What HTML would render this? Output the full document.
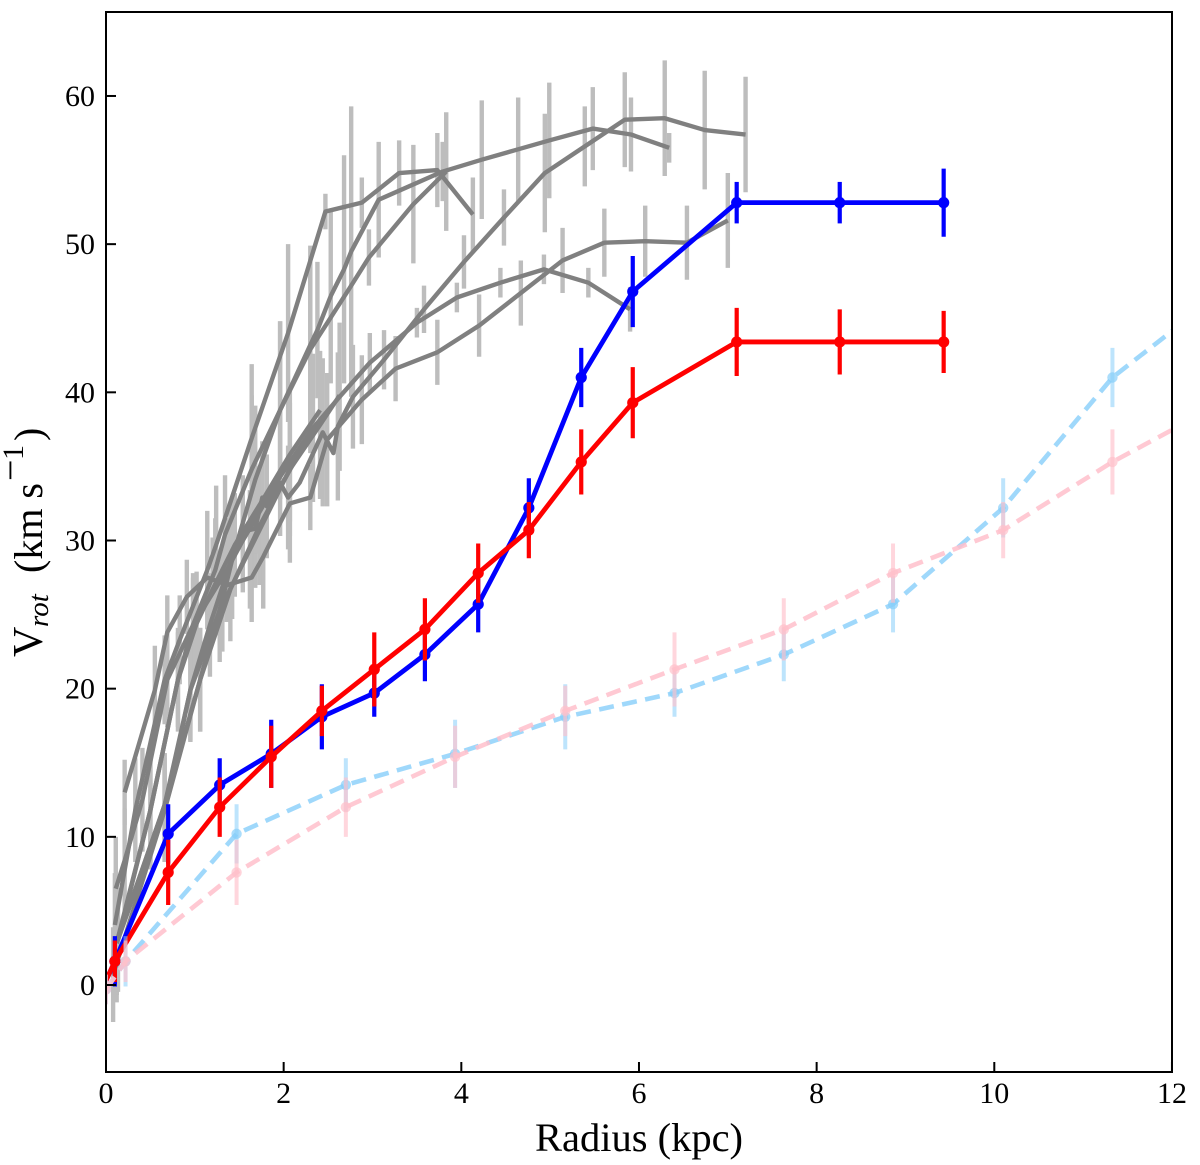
<!DOCTYPE html>
<html>
<head>
<meta charset="utf-8">
<title>Rotation curves</title>
<style>
html,body{margin:0;padding:0;background:#fff;}
svg{display:block;}
text{font-family:"Liberation Serif",serif;fill:#000;}
</style>
</head>
<body>
<svg id="chart" xmlns="http://www.w3.org/2000/svg" width="1200" height="1165" viewBox="0 0 1200 1165">
<defs><clipPath id="plot-clip"><rect x="106" y="12" width="1066" height="1060"></rect></clipPath></defs>
<rect x="0" y="0" width="1200" height="1165" fill="#fff"></rect>
<g id="marks" clip-path="url(#plot-clip)"></g>
<rect x="106" y="12" width="1066" height="1060" fill="none" stroke="#000" stroke-width="2"></rect>
<g id="axes"></g>
<text x="639" y="1151" font-size="40.5" text-anchor="middle">Radius (kpc)</text>
<g transform="translate(42,657) rotate(-90)">
<text x="0" y="0" font-size="42">V</text>
<text x="30" y="6" font-size="29" font-style="italic">rot</text>
<text x="84" y="0" font-size="40">(km s</text>
<text x="176" y="-19" font-size="38">−</text>
<text x="197" y="-19" font-size="30">1</text>
<text x="216" y="0" font-size="40">)</text>
</g>
</svg>
<script>
// axis ticks
const xTickLabels = [0, 2, 4, 6, 8, 10, 12];
const yTickLabels = [0, 10, 20, 30, 40, 50, 60];

// main blue series
const blueRadius = [0, 0.10, 0.70, 1.28, 1.86, 2.43, 3.02, 3.59, 4.19, 4.76, 5.35, 5.93, 7.10, 8.26, 9.43];
const blueVelocity = [0.3, 1.6, 10.2, 13.5, 15.6, 18.1, 19.7, 22.3, 25.7, 32.2, 41.0, 46.8, 52.8, 52.8, 52.8];
const blueError = [0, 1.7, 2.0, 1.8, 2.3, 2.2, 1.6, 1.8, 1.9, 2.0, 2.0, 2.4, 1.4, 1.4, 2.3];

// main red series
const redRadius = [0, 0.10, 0.70, 1.28, 1.86, 2.43, 3.02, 3.59, 4.19, 4.76, 5.35, 5.93, 7.10, 8.26, 9.43];
const redVelocity = [0.3, 1.6, 7.6, 12.0, 15.4, 18.5, 21.3, 24.0, 27.8, 30.7, 35.3, 39.3, 43.4, 43.4, 43.4];
const redError = [0, 1.4, 2.2, 2.0, 2.1, 1.7, 2.5, 2.1, 2.0, 1.9, 2.2, 2.4, 2.3, 2.2, 2.1];

// faded dashed series
const lightRadius = [0, 0.22, 1.47, 2.70, 3.93, 5.17, 6.40, 7.63, 8.86, 10.10, 11.33, 12.57];
const lightBlueVelocity = [-0.3, 1.6, 10.2, 13.5, 15.6, 18.1, 19.7, 22.3, 25.7, 32.2, 41.0, 46.8];
const lightBlueError = [1, 1.7, 2.0, 1.8, 2.3, 2.2, 1.6, 1.8, 1.9, 2.0, 2.0, 2.4];
const pinkVelocity = [-0.3, 1.6, 7.6, 12.0, 15.4, 18.5, 21.3, 24.0, 27.8, 30.7, 35.3, 39.3];
const pinkError = [1, 1.4, 2.2, 2.0, 2.1, 1.7, 2.5, 2.1, 2.0, 1.9, 2.2, 2.4];

// grey comparison galaxies (an error of 0 means no visible bar at that vertex)
const grayRadiusA = [0.12, 0.66, 0.95, 1.17, 1.40, 1.54, 1.68, 1.76, 1.81, 1.96, 2.05, 2.18, 2.44, 2.56, 2.61, 2.78, 3.13, 3.58, 4.03, 4.48, 4.94, 5.39, 5.84, 6.29, 6.74, 7.20];
const grayVelocityA = [2.83, 12.15, 19.9, 24.3, 28.5, 30.6, 30.8, 32.9, 32.3, 33.9, 32.9, 33.9, 37.3, 35.9, 37.7, 39.7, 42.2, 45.6, 48.8, 51.8, 54.8, 56.6, 58.4, 58.5, 57.7, 57.4];
const grayErrorA = [3.5, 3.5, 3.4, 3.5, 3.6, 3.8, 4.0, 0, 3.5, 0, 3.5, 0, 5.0, 0, 5.0, 3.5, 2.0, 1.6, 1.8, 1.9, 4.0, 2.7, 3.2, 3.9, 4.0, 3.9];

const grayRadiusB = [0.12, 0.50, 0.81, 0.98, 1.23, 1.34, 1.64, 1.96, 2.30, 2.38, 2.53, 2.68, 2.76, 3.07, 3.79, 4.23, 4.64, 4.99, 5.48, 5.91, 6.34];
const grayVelocityB = [2.83, 11.8, 20.6, 24.3, 28.0, 30.4, 34.8, 38.8, 43.2, 44.2, 46.5, 48.3, 49.5, 53.0, 54.9, 55.7, 56.4, 57.0, 57.8, 57.4, 56.5];
const grayErrorB = [4.0, 4.0, 3.5, 3.5, 3.5, 4.0, 5.0, 6.0, 6.0, 4.6, 5.9, 7.7, 9.8, 3.9, 2.0, 4.0, 3.5, 3.9, 2.8, 2.5, 1.0];

const grayRadiusC = [0.10, 0.33, 0.66, 0.83, 1.14, 1.24, 1.64, 2.05, 2.47, 2.88, 3.30, 3.73, 4.13];
const grayVelocityC = [4.05, 11.8, 20.6, 23.3, 28.0, 29.7, 36.9, 44.0, 52.2, 52.8, 54.8, 55.0, 52.0];
const grayErrorC = [3.5, 3.5, 3.0, 3.0, 4.0, 4.0, 5.0, 6.0, 1.2, 1.7, 2.2, 2.5, 2.5];

const grayRadiusD = [0.12, 0.66, 1.06, 1.31, 1.42, 1.68, 1.96, 2.30, 2.76, 2.96, 3.46, 3.83];
const grayVelocityD = [2.83, 11.8, 20.6, 26.0, 28.7, 34.1, 38.8, 42.9, 47.2, 49.1, 52.7, 54.9];
const grayErrorD = [3.5, 3.5, 3.5, 3.5, 4.0, 5.0, 6.0, 7.0, 0, 1.9, 4.0, 4.0];

const grayRadiusE = [0.21, 0.55, 0.69, 0.91, 1.14, 1.37, 1.64, 1.77, 2.07, 2.30, 2.49, 2.88, 3.26, 3.73, 4.20, 4.67, 5.14, 5.61, 6.07, 6.54, 7.00];
const grayVelocityE = [13.0, 19.9, 23.8, 26.2, 27.5, 27.0, 27.5, 28.9, 32.5, 32.9, 36.8, 39.5, 41.6, 42.7, 44.5, 46.7, 48.9, 50.1, 50.2, 50.1, 51.6];
const grayErrorE = [2.2, 3.0, 2.5, 2.5, 2.5, 2.5, 3.0, 3.5, 4.0, 2.2, 4.5, 3.0, 2.2, 2.2, 2.1, 2.2, 2.2, 2.3, 2.4, 2.5, 3.2];

const grayRadiusF = [0.11, 0.21, 0.41, 0.69, 0.98, 1.36, 1.54, 1.96, 2.33, 2.63, 2.97, 3.50, 3.95, 4.44, 4.93, 5.43, 5.90];
const grayVelocityF = [6.5, 8.4, 12.5, 20.6, 24.3, 28.0, 30.0, 34.3, 37.6, 39.7, 42.0, 44.7, 46.4, 47.4, 48.3, 47.4, 45.6];
const grayErrorF = [3.5, 3.5, 3.5, 3.2, 3.2, 3.5, 3.5, 4.0, 5.0, 5.0, 2.0, 1.0, 1.0, 1.0, 1.0, 1.0, 1.5];

const grayRadiusG = [0.12, 0.66, 1.06, 1.40, 1.73, 2.07, 2.41, 2.63];
const grayVelocityG = [2.83, 12.15, 20.6, 26.7, 31.0, 34.8, 37.8, 39.8];
const grayErrorG = [3.5, 3.5, 3.5, 3.5, 4.0, 4.5, 5.0, 0];

const grayRadiusH = [0.08, 0.66, 0.95, 1.28, 1.62, 2.01, 2.33];
const grayVelocityH = [0.7, 11.8, 19.9, 25.3, 29.4, 34.1, 37.6];
const grayErrorH = [3.2, 3.5, 3.5, 3.5, 4.0, 0, 0];

const grayRadiusI = [0.135, 0.50, 0.81, 1.02, 1.20, 1.45, 1.76, 2.07, 2.41];
const grayVelocityI = [3.04, 11.8, 20.6, 24.4, 26.7, 29.7, 32.7, 35.8, 38.8];
const grayErrorI = [3.5, 3.5, 3.2, 3.5, 3.5, 3.5, 4.0, 4.5, 0];

const xToPx = (v) => 106 + v * 88.83;
const yToPx = (v) => 985 - v * 14.817;
const SVG_NS = 'http://www.w3.org/2000/svg';
const marks = document.getElementById('marks');
const axes = document.getElementById('axes');

function drawErrorBars(radius, velocity, error, color, width, opacity, name) {
  radius.forEach((r, i) => {
    if (!error[i]) return;
    const bar = document.createElementNS(SVG_NS, 'line');
    
    
    bar.setAttribute('x1', xToPx(r));
    bar.setAttribute('x2', xToPx(r));
    bar.setAttribute('y1', yToPx(velocity[i] - error[i]));
    bar.setAttribute('y2', yToPx(velocity[i] + error[i]));
    bar.setAttribute('stroke', color);
    bar.setAttribute('stroke-width', width);
    bar.setAttribute('stroke-opacity', opacity);
    marks.appendChild(bar);
  });
}

function drawLine(radius, velocity, color, width, dash, opacity, name) {
  const line = document.createElementNS(SVG_NS, 'polyline');
  
  
  line.setAttribute('points', radius.map((r, i) => xToPx(r) + ',' + yToPx(velocity[i])).join(' '));
  line.setAttribute('fill', 'none');
  line.setAttribute('stroke', color);
  line.setAttribute('stroke-width', width);
  line.setAttribute('stroke-opacity', opacity);
  line.setAttribute('stroke-linejoin', 'round');
  if (dash) line.setAttribute('stroke-dasharray', dash);
  marks.appendChild(line);
}

function drawPoints(radius, velocity, error, color, size, opacity, name) {
  radius.forEach((r, i) => {
    if (!error[i]) return;
    const dot = document.createElementNS(SVG_NS, 'circle');
    
    
    dot.setAttribute('cx', xToPx(r));
    dot.setAttribute('cy', yToPx(velocity[i]));
    dot.setAttribute('r', size);
    dot.setAttribute('fill', color);
    dot.setAttribute('fill-opacity', opacity);
    marks.appendChild(dot);
  });
}

const grayGalaxies = [
  [grayRadiusA, grayVelocityA, grayErrorA, 'gray-galaxy-a'],
  [grayRadiusB, grayVelocityB, grayErrorB, 'gray-galaxy-b'],
  [grayRadiusC, grayVelocityC, grayErrorC, 'gray-galaxy-c'],
  [grayRadiusD, grayVelocityD, grayErrorD, 'gray-galaxy-d'],
  [grayRadiusE, grayVelocityE, grayErrorE, 'gray-galaxy-e'],
  [grayRadiusF, grayVelocityF, grayErrorF, 'gray-galaxy-f'],
  [grayRadiusG, grayVelocityG, grayErrorG, 'gray-galaxy-g'],
  [grayRadiusH, grayVelocityH, grayErrorH, 'gray-galaxy-h'],
  [grayRadiusI, grayVelocityI, grayErrorI, 'gray-galaxy-i']
];
grayGalaxies.forEach((g) => drawErrorBars(g[0], g[1], g[2], '#bdbdbd', 4.4, 1, g[3]));
grayGalaxies.forEach((g) => drawLine(g[0], g[1], '#808080', 4.4, null, 1, g[3]));

drawErrorBars(blueRadius, blueVelocity, blueError, '#0000ff', 4.2, 1, 'blue-series');
drawLine(blueRadius, blueVelocity, '#0000ff', 4.8, null, 1, 'blue-series');
drawPoints(blueRadius, blueVelocity, blueError, '#0000ff', 5.6, 1, 'blue-series');

drawErrorBars(redRadius, redVelocity, redError, '#ff0000', 4.2, 1, 'red-series');
drawLine(redRadius, redVelocity, '#ff0000', 4.8, null, 1, 'red-series');
drawPoints(redRadius, redVelocity, redError, '#ff0000', 5.6, 1, 'red-series');

drawErrorBars(lightRadius, lightBlueVelocity, lightBlueError, '#87cefa', 4, 0.55, 'light-blue-series');
drawLine(lightRadius, lightBlueVelocity, '#87cefa', 4.6, '15 8.5', 0.8, 'light-blue-series');
drawPoints(lightRadius, lightBlueVelocity, lightBlueError, '#87cefa', 5.2, 0.7, 'light-blue-series');

drawErrorBars(lightRadius, pinkVelocity, pinkError, '#ffc0cb', 4, 0.65, 'pink-series');
drawLine(lightRadius, pinkVelocity, '#ffc0cb', 4.6, '15 8.5', 0.85, 'pink-series');
drawPoints(lightRadius, pinkVelocity, pinkError, '#ffc0cb', 5.2, 0.7, 'pink-series');

xTickLabels.forEach((v) => {
  const tick = document.createElementNS(SVG_NS, 'line');
  
  
  tick.setAttribute('x1', xToPx(v));
  tick.setAttribute('x2', xToPx(v));
  tick.setAttribute('y1', 1072);
  tick.setAttribute('y2', 1062);
  tick.setAttribute('stroke', '#000');
  tick.setAttribute('stroke-width', 2);
  axes.appendChild(tick);
  const label = document.createElementNS(SVG_NS, 'text');
  
  
  label.setAttribute('x', xToPx(v));
  label.setAttribute('y', 1103);
  label.setAttribute('font-size', 30);
  label.setAttribute('text-anchor', 'middle');
  label.textContent = v;
  axes.appendChild(label);
});

yTickLabels.forEach((v) => {
  const tick = document.createElementNS(SVG_NS, 'line');
  
  
  tick.setAttribute('x1', 106);
  tick.setAttribute('x2', 116);
  tick.setAttribute('y1', yToPx(v));
  tick.setAttribute('y2', yToPx(v));
  tick.setAttribute('stroke', '#000');
  tick.setAttribute('stroke-width', 2);
  axes.appendChild(tick);
  const label = document.createElementNS(SVG_NS, 'text');
  
  
  label.setAttribute('x', 95);
  label.setAttribute('y', yToPx(v) + 10);
  label.setAttribute('font-size', 30);
  label.setAttribute('text-anchor', 'end');
  label.textContent = v;
  axes.appendChild(label);
});
</script>
</body>
</html>
